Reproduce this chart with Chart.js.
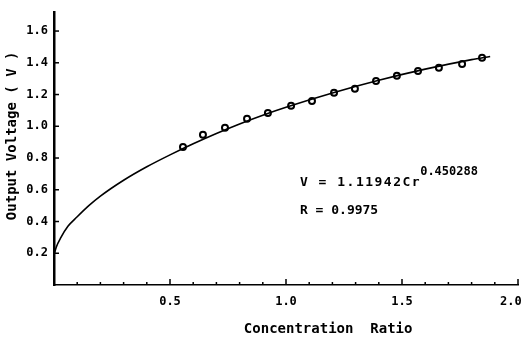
<!DOCTYPE html>
<html>
<head>
<meta charset="utf-8">
<script src="https://cdn.jsdelivr.net/npm/chart.js@4.4.1/dist/chart.umd.min.js"></script>
<style>
  html, body { margin: 0; padding: 0; background: #fff; }
  #wrap { width: 526px; height: 342px; }
</style>
</head>
<body>
<div id="wrap"><canvas id="chart" width="526" height="342"></canvas></div>
<script>
// measured points (Concentration ratio vs output voltage)
const pointX = [0.556, 0.642, 0.737, 0.832, 0.922, 1.022, 1.112, 1.207, 1.297, 1.388, 1.478, 1.569, 1.659, 1.759, 1.845];
const pointY = [0.870, 0.946, 0.990, 1.047, 1.084, 1.129, 1.160, 1.211, 1.236, 1.286, 1.318, 1.349, 1.368, 1.393, 1.431];

// fitted curve
const curveX = [0, 0.01, 0.03, 0.06, 0.1, 0.15, 0.2, 0.3, 0.4, 0.5, 0.6, 0.7, 0.8, 0.9, 1.0, 1.2, 1.4, 1.6, 1.8, 1.88];
const curveY = [0.19, 0.24, 0.30, 0.37, 0.43, 0.50, 0.56, 0.66, 0.745, 0.82, 0.89, 0.955, 1.015, 1.07, 1.12, 1.21, 1.29, 1.36, 1.42, 1.44];

// axes
const xTicks = [0.5, 1.0, 1.5, 2.0];
const xMinor = [0.1, 0.2, 0.3, 0.4, 0.6, 0.7, 0.8, 0.9, 1.1, 1.2, 1.3, 1.4, 1.6, 1.7, 1.8, 1.9];
const yTicks = [0.2, 0.4, 0.6, 0.8, 1.0, 1.2, 1.4, 1.6];

const fitText = 'V = 1.11942Cr';
const fitExp = '0.450288';
const rText = 'R = 0.9975';

const MONO = "'DejaVu Sans Mono', monospace";

// ticks pointing into the plot + the equation text
const extras = {
  id: 'extras',
  afterDraw(chart) {
    const { ctx, scales: { x, y } } = chart;
    ctx.save();
    ctx.strokeStyle = '#000';
    ctx.lineWidth = 1.5;
    const y0 = y.getPixelForValue(0);
    const x0 = x.getPixelForValue(0);
    xMinor.forEach(v => {
      const px = x.getPixelForValue(v);
      ctx.beginPath(); ctx.moveTo(px, y0); ctx.lineTo(px, y0 - 3); ctx.stroke();
    });
    xTicks.forEach(v => {
      const px = x.getPixelForValue(v);
      ctx.beginPath(); ctx.moveTo(px, y0); ctx.lineTo(px, y0 - 6); ctx.stroke();
    });
    yTicks.forEach(v => {
      const py = y.getPixelForValue(v);
      ctx.beginPath(); ctx.moveTo(x0, py); ctx.lineTo(x0 + 5, py); ctx.stroke();
    });

    // equation
    ctx.fillStyle = '#000';
    ctx.textBaseline = 'alphabetic';
    ctx.font = 'bold 13px ' + MONO;
    ctx.letterSpacing = '1.5px';
    const tx = x.getPixelForValue(1.06);
    const ty = y.getPixelForValue(0.624);
    ctx.fillText(fitText, tx, ty);
    const w = ctx.measureText(fitText).width;
    ctx.font = 'bold 12px ' + MONO;
    ctx.letterSpacing = '0px';
    ctx.fillText(fitExp, tx + w - 1, y.getPixelForValue(0.69));
    ctx.font = 'bold 13px ' + MONO;
    ctx.fillText(rText, tx, y.getPixelForValue(0.448));
    ctx.restore();
  }
};

new Chart(document.getElementById('chart'), {
  type: 'scatter',
  data: {
    datasets: [
      {
        data: curveX.map((v, i) => ({ x: v, y: curveY[i] })),
        showLine: true,
        borderColor: '#000',
        borderWidth: 1.6,
        pointRadius: 0,
        cubicInterpolationMode: 'monotone'
      },
      {
        data: pointX.map((v, i) => ({ x: v, y: pointY[i] })),
        pointRadius: 3,
        pointBorderWidth: 2,
        pointBorderColor: '#000',
        pointBackgroundColor: '#fff'
      }
    ]
  },
  options: {
    responsive: false,
    animation: false,
    layout: { padding: { top: 12, right: 8, left: 0, bottom: 0 } },
    plugins: { legend: { display: false }, tooltip: { enabled: false } },
    scales: {
      x: {
        type: 'linear',
        min: 0,
        max: 2.0,
        afterFit: s => { s.height = 57; s.paddingRight = 0; s.paddingLeft = 0; },
        afterBuildTicks: s => { s.ticks = xTicks.map(v => ({ value: v })); },
        grid: { display: false, drawTicks: false },
        border: { display: true, color: '#000', width: 1.6 },
        ticks: {
          color: '#000',
          padding: 10,
          font: { family: MONO, size: 12, weight: 'bold' },
          // last label sits a bit left of its tick, as in the original
          callback: v => v === 2 ? v.toFixed(1) + '  ' : v.toFixed(1)
        },
        title: {
          display: true,
          text: '          Concentration  Ratio',
          color: '#000',
          font: { family: MONO, size: 14, weight: 'bold' },
          padding: { top: 4, bottom: 4 }
        }
      },
      y: {
        type: 'linear',
        min: 0,
        max: 1.72,
        afterFit: s => { s.width = 54; s.paddingTop = 0; s.paddingBottom = 0; },
        afterBuildTicks: s => { s.ticks = yTicks.map(v => ({ value: v })); },
        grid: { display: false, drawTicks: false },
        border: { display: true, color: '#000', width: 2.5 },
        ticks: {
          color: '#000',
          padding: 6,
          font: { family: MONO, size: 12, weight: 'bold' },
          callback: v => v.toFixed(1)
        },
        title: {
          display: true,
          text: '   Output Voltage ( V )',
          color: '#000',
          font: { family: MONO, size: 14, weight: 'bold' },
          padding: { top: 4, bottom: 4 }
        }
      }
    }
  },
  plugins: [extras]
});
</script>
</body>
</html>
